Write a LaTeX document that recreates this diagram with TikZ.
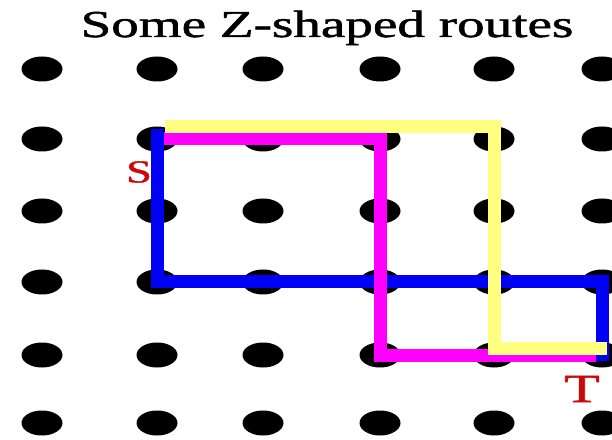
\documentclass[tikz,border=0pt]{standalone}
\usepackage{fontspec}
\setmainfont{Liberation Serif}
\newfontfamily\heavyserif{Liberation Serif}[FakeBold=1.2]
\usetikzlibrary{shapes.geometric}
\definecolor{routeblue}{HTML}{0000F5}
\definecolor{routepink}{HTML}{FF00FF}
\definecolor{routeyellow}{HTML}{FFFF80}
\definecolor{labelred}{HTML}{C80A0A}
% the lettering is set wide
\newcommand{\widetext}[1]{\scalebox{1.45}[1]{#1}}

\begin{document}
\begin{tikzpicture}[x=1pt,y=1pt,
  dot/.style={ellipse,fill=black,inner sep=0pt,minimum width=41pt,minimum height=25pt},
  route/.style={line width=13pt}]
\useasboundingbox (0,0) rectangle (612,439);
% grid of dots, d-column-row, rows counted from the top
\foreach \c/\x in {0/42,1/157,2/263,3/380,4/494,5/602}{
  \foreach \r/\y in {0/370,1/300,2/228,3/157,4/84,5/16}{
    \node[dot] (d-\c-\r) at (\x,\y) {};
  }
}
% three routes from S to T
\draw[route,routeblue] ([yshift=10]d-1-1.center) -- (d-1-3.center) -- (d-5-3.center) -- ([yshift=-6]d-5-4.center);
\draw[route,routepink] ([xshift=7]d-1-1.center) -- (d-3-1.center) -- (d-3-4.center) -- ([xshift=-6]d-5-4.center);
\draw[route,routeyellow] ([shift={(8,12)}]d-1-1.center) -- ([yshift=12]d-4-1.center) -- ([yshift=7]d-4-4.center) -- ([shift={(5,7)}]d-5-4.center);
% labels
\node[font=\heavyserif\fontsize{38}{40}\selectfont,anchor=base] (title) at (327,402) {\widetext{Some Z-shaped routes}};
\node[font=\heavyserif\fontsize{32}{34}\selectfont,text=labelred] (start) at (139,267) {\widetext{S}};
\node[font=\heavyserif\fontsize{40}{42}\selectfont,text=labelred] (end) at (582,50) {\widetext{T}};
\end{tikzpicture}
\end{document}
